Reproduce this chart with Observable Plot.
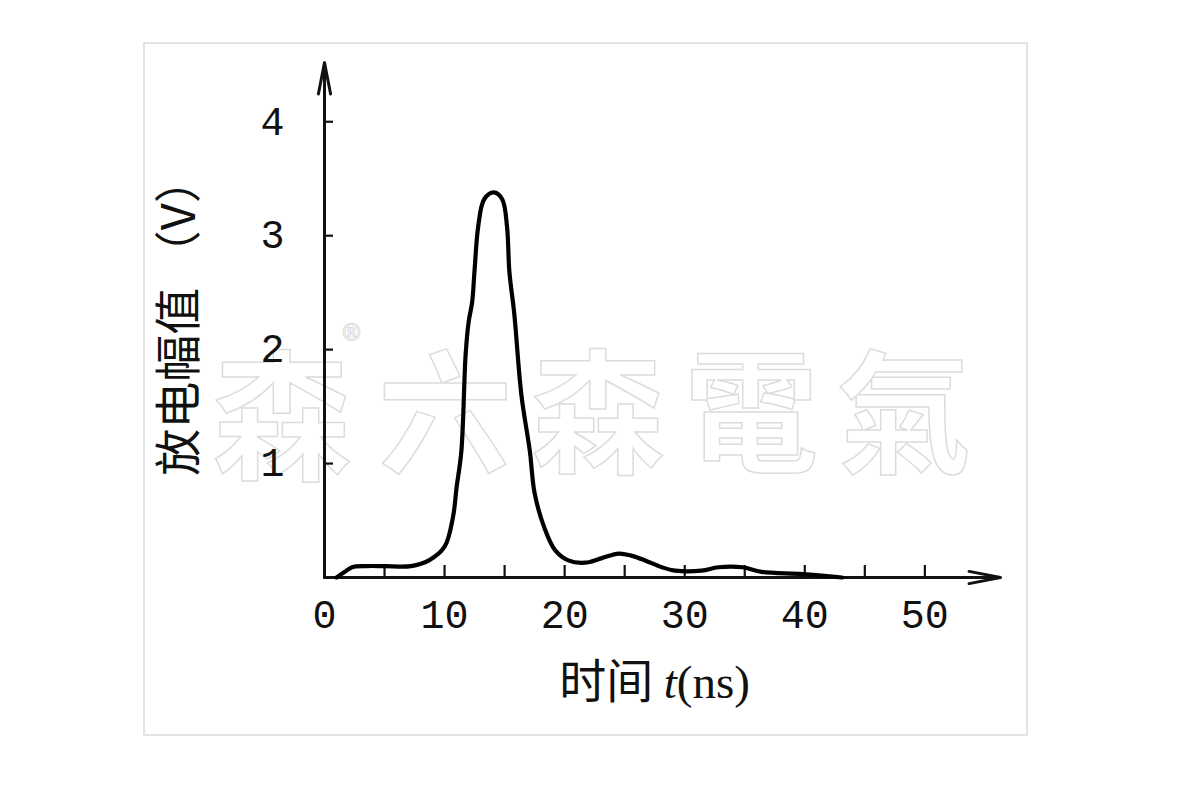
<!DOCTYPE html>
<html>
<head>
<meta charset="utf-8">
<script src="https://cdn.jsdelivr.net/npm/d3@7"></script>
<script src="https://cdn.jsdelivr.net/npm/@observablehq/plot@0.6"></script>
<style>
  body { margin: 0; background: #fff; }
  #wrap { position: relative; width: 1200px; height: 800px; overflow: hidden; }
  #frame { position: absolute; left: 143px; top: 42px; width: 885px; height: 694px;
           border: 2px solid #e4e4e4; box-sizing: border-box; }
  .wm { position: absolute; line-height: 1; color: #fff; font-weight: 700;
        -webkit-text-stroke: 1.5px #dcdcdc; font-family: "Noto Sans CJK TC", sans-serif; }
  #chart { position: absolute; left: 0; top: 0; }
</style>
</head>
<body>
<div id="wrap">
  <div id="frame"></div>
  <div class="wm" style="left:212px;top:338px;font-size:140px;">森</div>
  <div class="wm" style="left:342px;top:318px;font-size:40px;font-weight:400;-webkit-text-stroke:1px #dcdcdc;">®</div>
  <div class="wm" style="left:378px;top:338px;font-size:134px;letter-spacing:19px;">六森電氣</div>
  <div id="chart"></div>
</div>
<script>
// Discharge amplitude (V) vs time t (ns)
const timeNs = [1.0, 1.7, 2.3, 3.5, 5.0, 7.2, 8.7, 10.0, 10.7, 11.0, 11.4, 11.75, 12.0, 12.3, 12.5, 12.8, 13.3, 14.1, 14.8, 15.2, 15.4, 15.8, 16.4, 17.1, 17.5, 18.3, 19.2, 20.3, 21.7, 23.1, 24.5, 25.6, 26.7, 28.1, 29.2, 31.4, 32.8, 34.8, 36.4, 39.8, 43.1];
const amplitudeV = [0.0, 0.05, 0.09, 0.10, 0.10, 0.10, 0.15, 0.27, 0.53, 0.79, 1.11, 1.95, 2.24, 2.42, 2.70, 3.08, 3.32, 3.38, 3.32, 3.08, 2.68, 2.32, 1.60, 1.11, 0.74, 0.44, 0.24, 0.15, 0.13, 0.17, 0.21, 0.19, 0.15, 0.09, 0.06, 0.06, 0.09, 0.09, 0.05, 0.03, 0.0];

const xDomain = [0, 56.3];
const yDomain = [0, 4.52];
const xTickMarks = [5, 10, 15, 20, 25, 30, 35, 40, 45, 50];
const xTickLabels = [0, 10, 20, 30, 40, 50];
const yTicks = [1, 2, 3, 4];
const yLabel = "放电幅值 （V）";
const xLabelMain = "时间 ";
const xLabelVar = "t";
const xLabelUnit = "(ns)";

const data = timeNs.map((t, i) => ({t, v: amplitudeV[i]}));
const axesLines = [
  {x1: xDomain[0], y1: yDomain[0], x2: xDomain[1], y2: yDomain[0]},
  {x1: xDomain[0], y1: yDomain[0], x2: xDomain[0], y2: yDomain[1]}
];

const numFont = "Liberation Mono, DejaVu Sans Mono, monospace";
const cjkFont = "Noto Sans CJK SC, sans-serif";
const fmt = d => String(d);

const chart = Plot.plot({
  width: 1200,
  height: 800,
  marginLeft: 324,
  marginRight: 200,
  marginTop: 62,
  marginBottom: 223,
  style: {background: "transparent", color: "#111"},
  x: {domain: xDomain, label: null},
  y: {domain: yDomain, label: null},
  marks: [
    // tick marks pointing inward
    Plot.axisX({ticks: xTickMarks, tickSize: -12, tickFormat: () => "", label: null, strokeWidth: 2.2, stroke: "#111"}),
    Plot.axisY({ticks: yTicks, tickSize: -9, tickFormat: () => "", label: null, strokeWidth: 2.2, stroke: "#111"}),
    // tick labels
    Plot.axisX({ticks: xTickLabels, tickSize: 0, tickPadding: 22, tickFormat: fmt, label: null, fontSize: 40, fontFamily: numFont, fill: "#111"}),
    Plot.axisY({ticks: yTicks, tickSize: 0, tickPadding: 40, tickFormat: fmt, label: null, fontSize: 40, fontFamily: numFont, fill: "#111"}),
    // axis lines with arrow heads
    Plot.arrow(axesLines, {x1: "x1", y1: "y1", x2: "x2", y2: "y2", stroke: "#111", strokeWidth: 3, headLength: 16, headAngle: 22}),
    // curve
    Plot.line(data, {x: "t", y: "v", curve: "catmull-rom", stroke: "#000", strokeWidth: 4.2, strokeLinejoin: "round"}),
    // axis titles
    Plot.text([yLabel], {frameAnchor: "left", textAnchor: "middle", dx: -145, dy: -4, rotate: -90, fontSize: 47, fontFamily: cjkFont, fill: "#111"}),
    Plot.text([xLabelMain + xLabelVar + xLabelUnit], {frameAnchor: "bottom", textAnchor: "middle", dy: 120, dx: -8, fontSize: 47, fontFamily: cjkFont, fill: "#111"})
  ]
});

document.getElementById("chart").appendChild(chart);

// italic t and serif (ns) in the x title
d3.select(chart).selectAll("text").filter(function() {
  return this.textContent === xLabelMain + xLabelVar + xLabelUnit;
}).each(function() {
  const el = d3.select(this);
  el.text(null);
  el.append("tspan").text(xLabelMain);
  el.append("tspan").attr("font-family", "Liberation Serif, serif").attr("font-style", "italic").text(xLabelVar);
  el.append("tspan").attr("font-family", "Liberation Serif, serif").text(xLabelUnit);
});
</script>
</body>
</html>
